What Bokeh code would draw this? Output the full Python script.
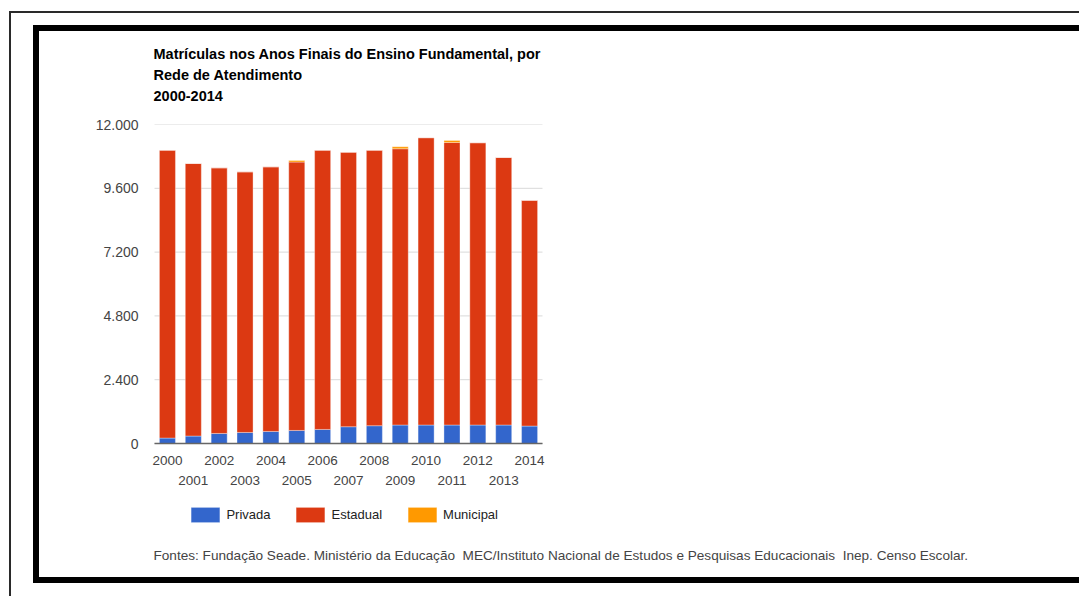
from bokeh.plotting import figure
from bokeh.models import (Range1d, FixedTicker, LinearAxis, Label, Legend, LegendItem,
                          ColumnDataSource, InlineStyleSheet)
from bokeh.embed import file_html
from bokeh.resources import INLINE

# ---------------- data ----------------
years = ["2000", "2001", "2002", "2003", "2004", "2005", "2006", "2007",
         "2008", "2009", "2010", "2011", "2012", "2013", "2014"]
privada = [204, 280, 378, 416, 453, 491, 529, 631, 669, 695, 695, 695, 695, 695, 657]
estadual = [10831, 10253, 9992, 9803, 9955, 10095, 10506, 10329, 10366, 10393,
            10809, 10631, 10620, 10065, 8489]
municipal = [0, 0, 0, 0, 0, 60, 0, 0, 0, 76, 0, 76, 0, 0, 0]
series_names = ["Privada", "Estadual", "Municipal"]
series_colors = ["#3366cc", "#dc3912", "#ff9900"]
y_ticks = [0, 2400, 4800, 7200, 9600, 12000]
y_tick_labels = ["0", "2.400", "4.800", "7.200", "9.600", "12.000"]
title_text = ("Matrículas nos Anos Finais do Ensino Fundamental, por\n"
              "Rede de Atendimento\n2000-2014")
source_note = ("Fontes: Fundação Seade. Ministério da Educação \u00a0MEC/Instituto Nacional "
               "de Estudos e Pesquisas Educacionais \u00a0Inep. Censo Escolar.")

FONT = "Liberation Sans"
W, H = 1079, 596
# layout (page pixels)
FRAME_L, FRAME_T = 140, 124          # frame: from here to right/bottom canvas edge
BARS_L, BARS_R, ZERO_Y = 154, 542, 443
n = len(years)
ymax = y_ticks[-1]
px_per_x = (BARS_R - BARS_L) / n
px_per_y = (ZERO_Y - FRAME_T) / ymax
x_start = -0.5 - (BARS_L - FRAME_L) / px_per_x
x_end = x_start + (W - FRAME_L) / px_per_x
y_start = -(H - ZERO_Y) / px_per_y

src = ColumnDataSource(dict(x=list(range(n)), Privada=privada,
                            Estadual=estadual, Municipal=municipal))

p = figure(width=W, height=H, x_range=Range1d(x_start, x_end),
           y_range=Range1d(y_start, ymax), output_backend="svg", toolbar_location=None,
           min_border_left=FRAME_L, min_border_right=0,
           min_border_top=FRAME_T, min_border_bottom=0)
p.outline_line_color = None
p.background_fill_color = "white"
p.border_fill_color = "white"
p.xgrid.visible = False
p.ygrid.visible = False

# horizontal gridlines under the bars only
p.segment(x0=-0.5, x1=n - 0.5, y0=y_ticks, y1=y_ticks, line_color="#d9d9d9", line_width=1)

renderers = p.vbar_stack(series_names, x="x", width=0.62, color=series_colors,
                         source=src, line_color="white", line_alpha=0.35, line_width=1)

# title (above the frame)
p.title.text = title_text
p.title.align = "left"
p.title.offset = 13
p.title.standoff = 40
p.title.text_font = FONT
p.title.text_font_style = "bold"
p.title.text_font_size = "14.5px"
p.title.text_color = "#000000"
p.title.text_line_height = 1.32

# y axis
yt = FixedTicker(ticks=y_ticks)
p.yaxis.ticker = yt
p.yaxis.major_label_overrides = {v: l for v, l in zip(y_ticks, y_tick_labels)}
p.yaxis.axis_line_color = None
p.yaxis.major_tick_line_color = None
p.yaxis.minor_tick_line_color = None
p.yaxis.major_tick_out = 0
p.yaxis.major_label_standoff = 2
p.yaxis.major_label_text_font = FONT
p.yaxis.major_label_text_font_size = "14px"
p.yaxis.major_label_text_color = "#444444"

# x axis: two staggered rows, pinned at value 0
even = [i for i in range(n) if i % 2 == 0]
odd = [i for i in range(n) if i % 2 == 1]
xa = p.xaxis[0]
xa.fixed_location = 0
xa.bounds = (-0.5, n - 0.5)
xa.ticker = FixedTicker(ticks=even)
xa.major_label_overrides = {i: years[i] for i in even}
xa.axis_line_color = "#666666"
xa.axis_line_width = 1.5
xa.major_tick_line_color = None
xa.minor_tick_line_color = None
xa.major_tick_out = 0
xa.major_label_standoff = 12
xa.major_label_text_font = FONT
xa.major_label_text_font_size = "13.5px"
xa.major_label_text_color = "#444444"

xb = LinearAxis(ticker=FixedTicker(ticks=odd), fixed_location=0, bounds=(-0.5, n - 0.5),
                major_label_overrides={i: years[i] for i in odd})
xb.axis_line_color = None
xb.major_tick_line_color = None
xb.minor_tick_line_color = None
xb.major_tick_out = 0
xb.major_label_standoff = 32
xb.major_label_text_font = FONT
xb.major_label_text_font_size = "13.5px"
xb.major_label_text_color = "#444444"
p.add_layout(xb, "below")

# legend
legend = Legend(items=[LegendItem(label=s, renderers=[r]) for s, r in zip(series_names, renderers)],
                orientation="horizontal", location=(187.4 - FRAME_L, H - 524.4),
                glyph_width=36, glyph_height=19, label_standoff=3, spacing=22,
                padding=0, margin=0, border_line_color=None,
                background_fill_alpha=0, label_text_font=FONT,
                label_text_font_size="13px", label_text_color="#222222")
p.add_layout(legend)

# source note
p.add_layout(Label(x=153 - FRAME_L, y=H - 555, x_units="screen", y_units="screen",
                   text=source_note, text_font=FONT, text_font_size="13.6px",
                   text_color="#444444", text_baseline="alphabetic", text_align="left"))

# outer frames drawn with CSS on the figure element
css = """
:host { position: relative; overflow: hidden; }
:host::before { content: ""; position: absolute; left: 9px; top: 11px;
  width: 1300px; height: 800px; border: 2px solid #2a2a2a; box-sizing: border-box;
  pointer-events: none; z-index: 5; }
:host::after { content: ""; position: absolute; left: 33px; top: 25px;
  width: 1300px; height: 558px; border: 6px solid #000000; box-sizing: border-box;
  pointer-events: none; z-index: 5; }
"""
p.stylesheets = [InlineStyleSheet(css=css)]

open("out.html", "w").write(file_html(p, INLINE))
